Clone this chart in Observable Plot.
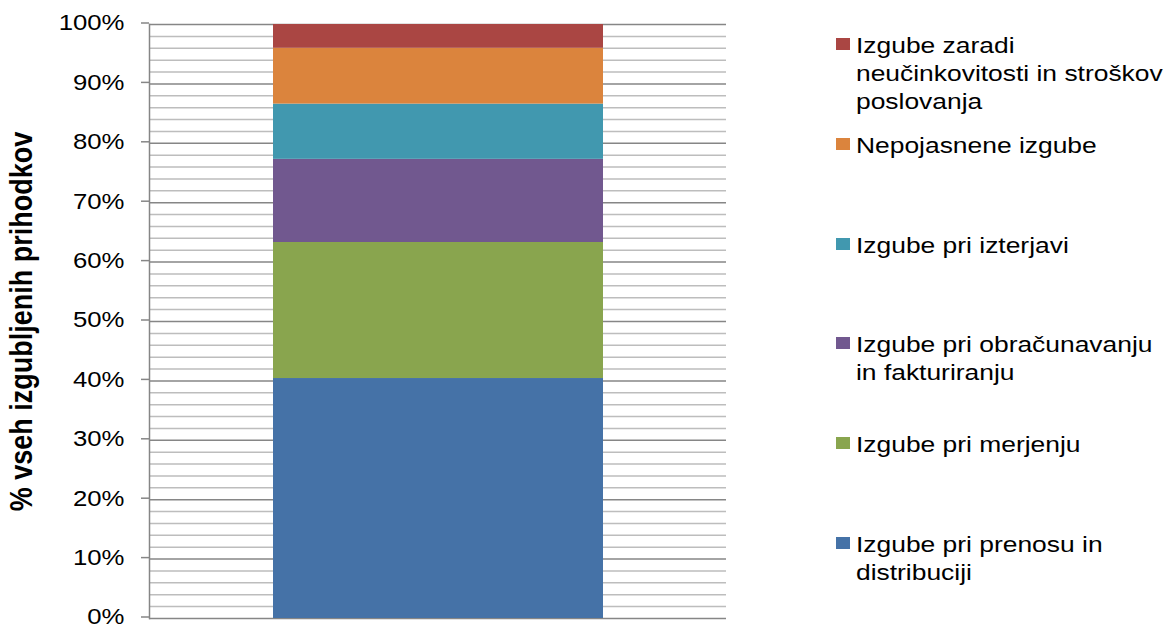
<!DOCTYPE html>
<html><head><meta charset="utf-8">
<script src="https://cdn.jsdelivr.net/npm/d3@7"></script>
<script src="https://cdn.jsdelivr.net/npm/@observablehq/plot@0.6"></script>
<style>
html,body{margin:0;padding:0;background:#fff;}
#wrap{position:relative;width:1166px;height:628px;font-family:"Liberation Sans",Arial,sans-serif;}
#legend{position:absolute;left:836px;top:0;width:330px;height:628px;}
.item{position:absolute;left:0;white-space:nowrap;}
.sw{position:absolute;left:0;top:6px;width:14px;height:12px;}
.lab{position:absolute;left:20px;top:0;font-size:22px;line-height:28px;color:#000;transform:scaleX(1.2);transform-origin:0 0;white-space:pre;}
</style></head>
<body><div id="wrap"></div>
<script>
const categories = ["Skupaj"];
const series = [
  "Izgube pri prenosu in distribuciji",
  "Izgube pri merjenju",
  "Izgube pri obračunavanju in fakturiranju",
  "Izgube pri izterjavi",
  "Nepojasnene izgube",
  "Izgube zaradi neučinkovitosti in stroškov poslovanja"
];
const values = [40.4, 22.9, 14.0, 9.3, 9.4, 4.0];
const colors = ["#4572A7", "#89A54E", "#71588F", "#4198AF", "#DB843D", "#AA4643"];
const legendLines = [
  ["Izgube pri prenosu in", "distribuciji"],
  ["Izgube pri merjenju"],
  ["Izgube pri obračunavanju", "in fakturiranju"],
  ["Izgube pri izterjavi"],
  ["Nepojasnene izgube"],
  ["Izgube zaradi", "neučinkovitosti in stroškov", "poslovanja"]
];
const yTicks = [0, 10, 20, 30, 40, 50, 60, 70, 80, 90, 100];
const yMinor = d3.range(0, 101, 2).filter(v => v % 10 !== 0);
const yTitle = "% vseh izgubljenih prihodkov";

const data = series.map((s, i) => ({category: categories[0], series: s, value: values[i]}));

const chart = Plot.plot({
  width: 1166, height: 628,
  marginLeft: 149, marginRight: 440, marginTop: 24, marginBottom: 10,
  style: {fontFamily: '"Liberation Sans", Arial, sans-serif', background: "#fff", color: "#000"},
  x: {domain: categories, padding: 0.272, axis: null},
  y: {domain: [0, 100], axis: null},
  color: {domain: series, range: colors},
  marks: [
    Plot.ruleY(yMinor, {stroke: "#bdbdbd", strokeWidth: 1.5}),
    Plot.ruleY(yTicks, {stroke: "#868686", strokeWidth: 1.5}),
    Plot.barY(data, {x: "category", y: "value", fill: "series"}),
    Plot.frame({anchor: "left", stroke: "#868686", strokeWidth: 1.5}),
    Plot.axisY(yTicks, {tickSize: 8, tickPadding: 17, tickFormat: d => d + "%", fontSize: 23, stroke: "#868686", strokeWidth: 1.5, label: null, dy: -1.5}),
    Plot.text([yTitle], {frameAnchor: "left", textAnchor: "middle", lineAnchor: "middle", rotate: -90, dx: -127, dy: 0, fontSize: 27, fontWeight: "bold", fill: "#000"})
  ]
});

function addScale(sel, s) {
  sel.each(function() {
    const t = this.getAttribute("transform");
    if (t) {
      this.setAttribute("transform", t + " " + s);
    } else {
      const x = +this.getAttribute("x") || 0, y = +this.getAttribute("y") || 0;
      this.removeAttribute("x"); this.removeAttribute("y");
      this.setAttribute("transform", `translate(${x},${y}) ${s}`);
    }
  });
}
const svg = d3.select(chart);
addScale(svg.selectAll('g[aria-label="y-axis tick label"] text'), "scale(1.12,1)");
addScale(svg.selectAll('g[aria-label="text"] text'), "scale(1,1.15)");

const wrap = document.getElementById("wrap");
wrap.appendChild(chart);

const legend = d3.select(wrap).append("div").attr("id", "legend");
const order = d3.range(series.length).reverse();
order.forEach((idx, i) => {
  const item = legend.append("div").attr("class", "item").style("top", (32 + i * 99.8) + "px");
  item.append("div").attr("class", "sw").style("background", colors[idx]);
  item.append("div").attr("class", "lab").text(legendLines[idx].join("\n"));
});
</script>
</body></html>
